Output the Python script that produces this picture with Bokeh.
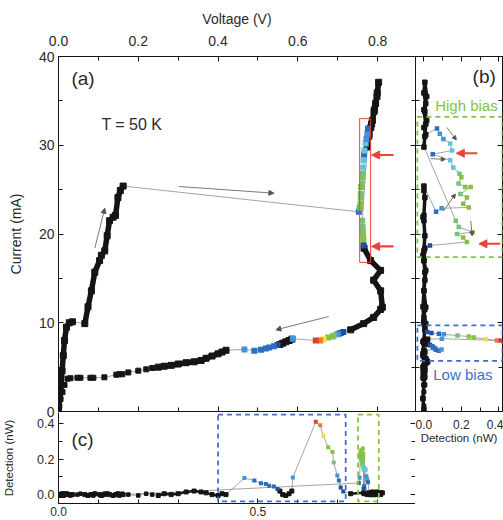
from bokeh.plotting import figure
from bokeh.layouts import row, column
from bokeh.models import (Range1d, LinearAxis, SingleIntervalTicker, PrintfTickFormatter,
                          CustomJSTickFormatter, Arrow, NormalHead, BoxAnnotation, Label)
from bokeh.embed import file_html
from bokeh.resources import INLINE

# ---------------- data (sweep in time order): V in volts, I in mA, D = detection in nW -------------
fwd1_V = [0.0, 0.003, 0.006, 0.009, 0.012, 0.015, 0.02, 0.027, 0.035]
fwd1_I = [0.2, 1.5, 3.0, 4.6, 6.3, 8.0, 9.5, 10.0, 10.1]
fwd1_D = [0.0, -0.005, 0.0, 0.005, -0.005, 0.0, 0.005, 0.0, 0.0]

fwd2_V = [0.066, 0.074, 0.0825, 0.091, 0.103, 0.1075, 0.116, 0.122, 0.128, 0.137, 0.143, 0.149, 0.155, 0.162]
fwd2_I = [9.9, 11.8, 13.6, 15.7, 17.0, 17.6, 18.1, 19.8, 21.5, 21.9, 22.1, 24.1, 24.9, 25.4]
fwd2_D = [0.0, -0.005, 0.0, 0.005, 0.0, -0.005, 0.0, 0.005, 0.0, -0.005, 0.0, 0.005, 0.0, 0.0]

hiup_V = [0.753, 0.755, 0.757, 0.757, 0.758, 0.758, 0.759, 0.760, 0.761, 0.762, 0.763, 0.764, 0.765,
          0.766, 0.767, 0.770, 0.772, 0.774, 0.776]
hiup_I = [22.5, 22.9, 23.0, 23.4, 24.1, 24.5, 25.3, 25.3, 25.7, 26.4, 26.8, 27.5, 28.3,
          29.0, 29.4, 30.2, 30.7, 31.3, 31.9]
hiup_D = [0.065, 0.095, 0.24, 0.21, 0.23, 0.195, 0.25, 0.22, 0.185, 0.20, 0.19, 0.157, 0.14,
          0.047, 0.15, 0.14, 0.104, 0.085, 0.07]

top_V = [0.7785, 0.783, 0.787, 0.791, 0.795, 0.799, 0.8025, 0.7985, 0.792, 0.785, 0.778, 0.774]
top_I = [31.2, 32.0, 32.8, 33.8, 34.7, 35.9, 37.1, 35.5, 34.0, 32.4, 31.0, 29.8]
top_D = [0.01, 0.0, 0.015, 0.005, 0.01, 0.0, 0.005, 0.015, 0.0, 0.01, 0.005, 0.0]

hidn_V = [0.7615, 0.7625, 0.763, 0.763, 0.764, 0.764, 0.765]
hidn_I = [21.5, 20.8, 20.2, 20.0, 19.6, 19.1, 18.7]
hidn_D = [0.17, 0.186, 0.26, 0.177, 0.21, 0.23, 0.032]

wig_V = [0.766, 0.7825, 0.8075, 0.79, 0.8075, 0.812, 0.8075, 0.79, 0.765, 0.7325]
wig_I = [18.4, 17.0, 15.9, 14.8, 13.6, 11.75, 11.5, 10.6, 9.9, 9.2]
wig_D = [0.005, 0.0, 0.01, 0.005, 0.0, 0.01, 0.005, 0.0, 0.01, 0.005]

lo1_V = [0.714, 0.7075, 0.703, 0.699, 0.69, 0.687, 0.676, 0.664, 0.656, 0.645]
lo1_I = [8.95, 8.85, 8.75, 8.7, 8.55, 8.45, 8.35, 8.15, 8.0, 8.0]
lo1_D = [0.017, 0.04, 0.08, 0.107, 0.18, 0.24, 0.267, 0.33, 0.39, 0.41]

lo2_V = [0.5875]
lo2_I = [8.2]
lo2_D = [0.096]

blk1_V = [0.585, 0.578, 0.57, 0.562, 0.555]
blk1_I = [8.15, 8.0, 7.85, 7.7, 7.55]
blk1_D = [0.02, 0.005, -0.005, 0.0, 0.02]

lo3_V = [0.549, 0.54, 0.528, 0.52, 0.5075, 0.491]
lo3_I = [7.5, 7.35, 7.2, 7.1, 6.95, 6.85]
lo3_D = [0.032, 0.045, 0.05, 0.06, 0.064, 0.079]

lo4_V = [0.466]
lo4_I = [7.0]
lo4_D = [0.094]

blk2_V = [0.42, 0.41, 0.40, 0.385, 0.37, 0.3575, 0.34, 0.32, 0.30, 0.2825, 0.265, 0.25]
blk2_I = [6.9, 6.7, 6.5, 6.25, 6.0, 5.75, 5.6, 5.5, 5.35, 5.2, 5.1, 5.0]
blk2_D = [0.0, 0.005, -0.005, 0.0, 0.01, 0.015, 0.02, 0.015, 0.005, 0.0, 0.005, -0.005]

blk3_V = [0.235, 0.22, 0.2, 0.175, 0.16, 0.1525, 0.145, 0.115, 0.0875, 0.08, 0.055, 0.0475,
          0.03, 0.0225, 0.015, 0.01, 0.005, 0.002]
blk3_I = [4.9, 4.75, 4.6, 4.4, 4.2, 4.2, 4.15, 3.85, 3.8, 3.8, 3.8, 3.8, 3.75, 3.7, 3.0, 2.2, 1.4, 0.6]
blk3_D = [0.0, 0.005, -0.005, 0.0, 0.005, -0.005, 0.0, 0.005, -0.005, 0.0, 0.005, 0.0,
          -0.005, 0.0, 0.005, 0.0, -0.005, 0.0]

# sweep-direction arrows and highlighted windows
arrA_x0 = [0.091, 0.3025, 0.6775]
arrA_y0 = [18.4, 25.35, 10.7]
arrA_x1 = [0.116, 0.54, 0.545]
arrA_y1 = [22.9, 24.6, 9.2]
redA_x0 = [0.84, 0.84]
redA_x1 = [0.785, 0.785]
redA_y = [28.9, 18.6]
redbox_V = [0.755, 0.7825]
redbox_I = [16.8, 33.0]

arrB_x0 = [0.123, 0.036, 0.105, 0.25]
arrB_y0 = [32.0, 28.5, 22.6, 21.5]
arrB_x1 = [0.173, 0.114, 0.168, 0.258]
arrB_y1 = [30.6, 28.4, 24.5, 19.8]
redB_x0 = [0.285, 0.408]
redB_x1 = [0.173, 0.294]
redB_y = [29.1, 18.9]

high_I = [17.4, 33.2]
low_I = [5.7, 9.7]
box_D = [-0.035, 0.42]
lowwin_V = [0.40, 0.72]
highwin_V = [0.751, 0.803]
win_D = [-0.038, 0.45]

RUNS = [
    ("solid", fwd1_V, fwd1_I, fwd1_D),
    ("solid", fwd2_V, fwd2_I, fwd2_D),
    ("colour", hiup_V, hiup_I, hiup_D),
    ("solid", top_V, top_I, top_D),
    ("colour", hidn_V, hidn_I, hidn_D),
    ("solid", wig_V, wig_I, wig_D),
    ("colour", lo1_V, lo1_I, lo1_D),
    ("colour", lo2_V, lo2_I, lo2_D),
    ("solid", blk1_V, blk1_I, blk1_D),
    ("colour", lo3_V, lo3_I, lo3_D),
    ("colour", lo4_V, lo4_I, lo4_D),
    ("solid", blk2_V, blk2_I, blk2_D),
    ("dots", blk3_V, blk3_I, blk3_D),
]

# ---------------- styling ----------------
FONT = "Liberation Sans"
INK = "#151515"
TXT = "#2a2a2a"
GREEN = "#86c340"
BLUE = "#3f6fcc"
RED = "#e8443a"


def det_colour(d):
    stops = [(-1, "#1f4e9c"), (0.045, "#2d6cc0"), (0.085, "#3f95d8"), (0.12, "#62c3dc"),
             (0.16, "#78c178"), (0.2, "#86c144"), (0.3, "#c9d93a"), (0.32, "#f2e13e"),
             (0.36, "#f2a23b"), (0.385, "#ee7a3a"), (0.40, "#e0412c")]
    c = stops[0][1]
    for t, col in stops:
        if d >= t:
            c = col
    return c


def axis(interval, minor, labels, label=None, fmt=None, fs="14px", standoff=4,
         lab_fs="14px", lab_standoff=8):
    ax = LinearAxis(ticker=SingleIntervalTicker(interval=interval, num_minor_ticks=minor))
    ax.axis_line_color = INK
    ax.axis_line_width = 1
    ax.major_tick_in = 5
    ax.major_tick_out = 0
    ax.minor_tick_in = 4
    ax.minor_tick_out = 0
    ax.major_tick_line_color = INK
    ax.minor_tick_line_color = INK
    if labels:
        if fmt:
            ax.formatter = PrintfTickFormatter(format=fmt)
        ax.major_label_text_font = FONT
        ax.major_label_text_font_size = fs
        ax.major_label_text_color = TXT
        ax.major_label_standoff = standoff
    else:
        ax.formatter = CustomJSTickFormatter(code="return ''")
        ax.major_label_text_font_size = "1px"
        ax.major_label_text_color = None
        ax.major_label_standoff = 0
    if label:
        ax.axis_label = label
        ax.axis_label_text_font = FONT
        ax.axis_label_text_font_size = lab_fs
        ax.axis_label_text_font_style = "normal"
        ax.axis_label_text_color = TXT
        ax.axis_label_standoff = lab_standoff
    return ax


def base(width, height, xr, yr, **kw):
    p = figure(width=width, height=height, x_range=Range1d(*xr), y_range=Range1d(*yr),
               x_axis_location=None, y_axis_location=None, output_backend="svg",
               toolbar_location=None, **kw)
    p.grid.visible = False
    p.outline_line_color = None
    return p


def draw_data(p, xi, yi, ms, lw, dot_ms):
    xs_all, ys_all = [], []
    for kind, *cols in RUNS:
        xs_all += cols[xi]
        ys_all += cols[yi]
    p.line(xs_all, ys_all, line_color="#8d8d8d", line_width=0.8)
    for kind, *cols in RUNS:
        x, y = cols[xi], cols[yi]
        if kind == "solid":
            p.line(x, y, line_color=INK, line_width=lw)
            p.scatter(x, y, marker="square", size=ms, color=INK)
        elif kind == "dots":
            p.scatter(x, y, marker="square", size=dot_ms, color=INK)
    for kind, *cols in RUNS:
        if kind == "colour":
            x, y = cols[xi], cols[yi]
            p.scatter(x, y, marker="square", size=ms,
                      fill_color=[det_colour(d) for d in cols[2]], line_color=None)


def arrows(p, x0, y0, x1, y1, color, width, head):
    for a, b, c, d in zip(x0, y0, x1, y1):
        p.add_layout(Arrow(end=NormalHead(size=head, fill_color=color, line_color=color),
                           x_start=a, y_start=b, x_end=c, y_end=d,
                           line_color=color, line_width=width))


def label(p, x, y, text, size, color=TXT):
    p.add_layout(Label(x=x, y=y, text=text, text_font=FONT, text_font_size=size,
                       text_color=color, text_baseline="middle", text_align="left"))


def dashed_box(p, l, r, b, t, color):
    p.add_layout(BoxAnnotation(left=l, right=r, bottom=b, top=t, fill_color=None, fill_alpha=0,
                               line_color=color, line_alpha=1, line_width=1.8, line_dash="5 4"))


# ---------------- panel (a): I-V ----------------
pa = base(415, 418, (0, 0.895), (0, 40), min_border_left=57, min_border_right=0,
          min_border_top=56, min_border_bottom=7)
pa.add_layout(axis(10, 2, True, "Current (mA)", lab_standoff=12), "left")
pa.add_layout(axis(0.2, 2, True, "Voltage (V)", fmt="%.1f", standoff=11, lab_standoff=6), "above")
pa.add_layout(axis(10, 2, False), "right")
pa.add_layout(axis(0.2, 2, False), "below")
draw_data(pa, 0, 1, ms=6, lw=5.5, dot_ms=5)
pa.add_layout(BoxAnnotation(left=redbox_V[0], right=redbox_V[1], bottom=redbox_I[0], top=redbox_I[1],
                            fill_color=None, fill_alpha=0, line_color=RED, line_alpha=1,
                            line_width=1))
arrows(pa, arrA_x0, arrA_y0, arrA_x1, arrA_y1, "#555555", 0.8, 5)
arrows(pa, redA_x0, redA_y, redA_x1, redA_y, RED, 2.2, 8)
label(pa, 0.0325, 37.5, "(a)", "19px")
label(pa, 0.1075, 32.3, "T = 50 K", "16px")

# ---------------- panel (c): detection vs voltage ----------------
pc = base(415, 114, (0, 0.895), (-0.05, 0.462), min_border_left=57, min_border_right=0,
          min_border_top=1, min_border_bottom=22, margin=(-7, 0, 0, 0))
pc.border_fill_color = None
pc.background_fill_color = None
pc.add_layout(axis(0.2, 2, True, "Detection (nW)", fmt="%.1f", fs="12.5px", lab_fs="11.5px",
                   lab_standoff=19), "left")
pc.add_layout(axis(0.5, 5, True, fmt="%.1f", fs="12px", standoff=3), "below")
pc.add_layout(axis(0.2, 2, False), "right")
draw_data(pc, 0, 2, ms=4, lw=2.5, dot_ms=3.5)
dashed_box(pc, lowwin_V[0], lowwin_V[1], win_D[0], win_D[1], BLUE)
dashed_box(pc, highwin_V[0], highwin_V[1], win_D[0], win_D[1], GREEN)
label(pc, 0.0325, 0.31, "(c)", "19px")

# ---------------- panel (b): current vs detection ----------------
pb = base(88, 451, (-0.045, 0.42), (0, 40), min_border_left=0, min_border_right=1,
          min_border_top=56, min_border_bottom=40)
pb.add_layout(axis(0.2, 2, True, "Detection (nW)", fmt="%.1f", fs="12px", lab_fs="11.5px",
                   standoff=8, lab_standoff=0), "below")
pb.add_layout(axis(0.2, 2, False), "above")
pb.add_layout(axis(10, 2, False), "left")
pb.add_layout(axis(10, 2, False), "right")
draw_data(pb, 2, 1, ms=4.5, lw=3.5, dot_ms=4)
dashed_box(pb, box_D[0], box_D[1], high_I[0], high_I[1], GREEN)
dashed_box(pb, box_D[0], box_D[1], low_I[0], low_I[1], BLUE)
arrows(pb, arrB_x0, arrB_y0, arrB_x1, arrB_y1, "#555555", 0.8, 4)
arrows(pb, redB_x0, redB_y, redB_x1, redB_y, RED, 2.2, 8)
label(pb, 0.26, 37.75, "(b)", "19px")
label(pb, 0.06, 34.5, "High bias", "15px", GREEN)
label(pb, 0.05, 4.2, "Low bias", "15px", BLUE)

layout = row(column(pa, pc), pb)
open("out.html", "w").write(file_html(layout, INLINE))
